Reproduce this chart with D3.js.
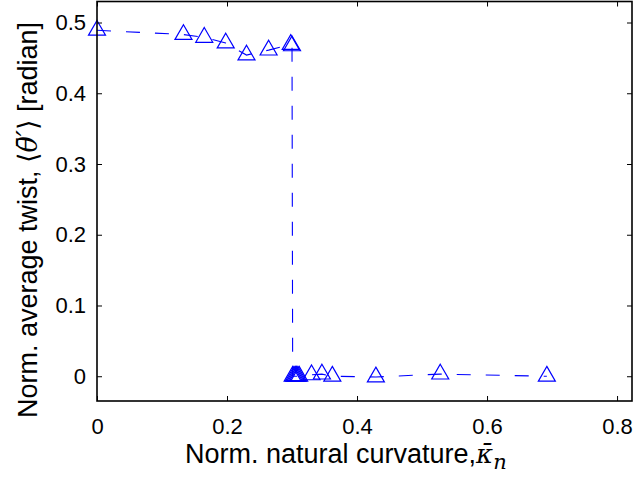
<!DOCTYPE html>
<html>
<head>
<meta charset="utf-8">
<script src="https://cdn.jsdelivr.net/npm/d3@7"></script>
<style>
  body { margin: 0; background: #fff; }
  svg { display: block; }
  .tick text { font-family: "Liberation Sans", Arial, sans-serif; font-size: 22px; fill: #000; }
</style>
</head>
<body>
<div id="chart"></div>
<script>
// curvature values (x) and twist values (y)
var curvature = [0, 0.133, 0.165, 0.198, 0.230, 0.264, 0.298, 0.300,
  0.301, 0.303, 0.305, 0.307, 0.309, 0.311,
  0.330, 0.346, 0.362, 0.429, 0.528, 0.692];
var twist = [0.489, 0.483, 0.479, 0.471, 0.454, 0.461, 0.469, 0.467,
  0, 0, 0, 0, 0, 0,
  0.002, 0.003, 0, -0.001, 0.003, 0];
var xTicks = [0, 0.2, 0.4, 0.6, 0.8];
var yTicks = [0, 0.1, 0.2, 0.3, 0.4, 0.5];

var width = 634, height = 479;
var margin = { left: 97, right: 2, top: 1.5, bottom: 78 };

var svg = d3.select('#chart')
  .append('svg')
  .attr('width', width)
  .attr('height', height);

var x = d3.scaleLinear()
  .domain([0, 0.823])
  .range([margin.left, width - margin.right]);

var y = d3.scaleLinear()
  .domain([-0.035, 0.5297])
  .range([height - margin.bottom, margin.top]);

var points = curvature.map(function (c, i) {
  return { x: c, y: twist[i] };
});

// dashed connecting line
var line = d3.line()
  .x(function (d) { return x(d.x); })
  .y(function (d) { return y(d.y); });

svg.append('path')
  .datum(points)
  .attr('d', line)
  .attr('fill', 'none')
  .attr('stroke', '#0000ff')
  .attr('stroke-width', 1.1)
  .attr('stroke-dasharray', '14,15');

// triangle markers, centroid at the data point
var side = 17, th = side * Math.sqrt(3) / 2;
var tri = 'M0,' + (-2 * th / 3) + 'L' + (side / 2) + ',' + (th / 3) +
  'L' + (-side / 2) + ',' + (th / 3) + 'Z';

svg.selectAll('path.marker')
  .data(points)
  .enter()
  .append('path')
  .attr('class', 'marker')
  .attr('d', tri)
  .attr('transform', function (d) { return 'translate(' + x(d.x) + ',' + y(d.y) + ')'; })
  .attr('fill', 'none')
  .attr('stroke', '#0000ff')
  .attr('stroke-width', 1.2);

// axes, ticks pointing inward, mirrored on top and right
var axBottom = svg.append('g')
  .attr('transform', 'translate(0,' + (height - margin.bottom) + ')')
  .call(d3.axisBottom(x).tickValues(xTicks).tickSizeInner(-5).tickSizeOuter(0)
    .tickPadding(17).tickFormat(d3.format('')));

var axLeft = svg.append('g')
  .attr('transform', 'translate(' + margin.left + ',0)')
  .call(d3.axisLeft(y).tickValues(yTicks).tickSizeInner(-5).tickSizeOuter(0)
    .tickPadding(11).tickFormat(d3.format('')));

var axTop = svg.append('g')
  .attr('transform', 'translate(0,' + margin.top + ')')
  .call(d3.axisTop(x).tickValues(xTicks).tickSizeInner(-5).tickSizeOuter(0)
    .tickFormat(''));

var axRight = svg.append('g')
  .attr('transform', 'translate(' + (width - margin.right) + ',0)')
  .call(d3.axisRight(y).tickValues(yTicks).tickSizeInner(-5).tickSizeOuter(0)
    .tickFormat(''));

[axBottom, axLeft, axTop, axRight].forEach(function (g) {
  g.selectAll('.domain').remove();
  g.selectAll('.tick line').attr('stroke', '#000').attr('stroke-width', 1);
});

svg.append('rect')
  .attr('x', x.range()[0])
  .attr('y', y.range()[1])
  .attr('width', x.range()[1] - x.range()[0])
  .attr('height', y.range()[0] - y.range()[1])
  .attr('fill', 'none')
  .attr('stroke', '#000')
  .attr('stroke-width', 1.6);

// x label
var xl = svg.append('text')
  .attr('x', 185)
  .attr('y', 462.7)
  .attr('font-family', '"Liberation Sans", Arial, sans-serif')
  .attr('font-size', 27)
  .attr('fill', '#000');
xl.append('tspan').text('Norm. natural curvature,');
xl.append('tspan')
  .attr('font-family', '"DejaVu Serif", serif')
  .attr('font-style', 'italic')
  .attr('font-size', 26)
  .text('\u03ba\u0304');
xl.append('tspan')
  .attr('font-family', '"DejaVu Serif", serif')
  .attr('font-style', 'italic')
  .attr('font-size', 21)
  .attr('dy', 6)
  .text('n');

// y label
var yl = svg.append('text')
  .attr('transform', 'translate(37,220) rotate(-90)')
  .attr('text-anchor', 'middle')
  .attr('font-family', '"Liberation Sans", Arial, sans-serif')
  .attr('font-size', 27)
  .attr('fill', '#000');
yl.append('tspan').text('Norm. average twist, ');
yl.append('tspan').attr('font-family', '"DejaVu Sans", sans-serif').text('\u27e8');
yl.append('tspan')
  .attr('font-family', '"DejaVu Serif", serif')
  .attr('font-style', 'italic')
  .text('\u03b8\u0304\u2032');
yl.append('tspan').attr('font-family', '"DejaVu Sans", sans-serif').text('\u27e9');
yl.append('tspan').text(' [radian]');
</script>
</body>
</html>
